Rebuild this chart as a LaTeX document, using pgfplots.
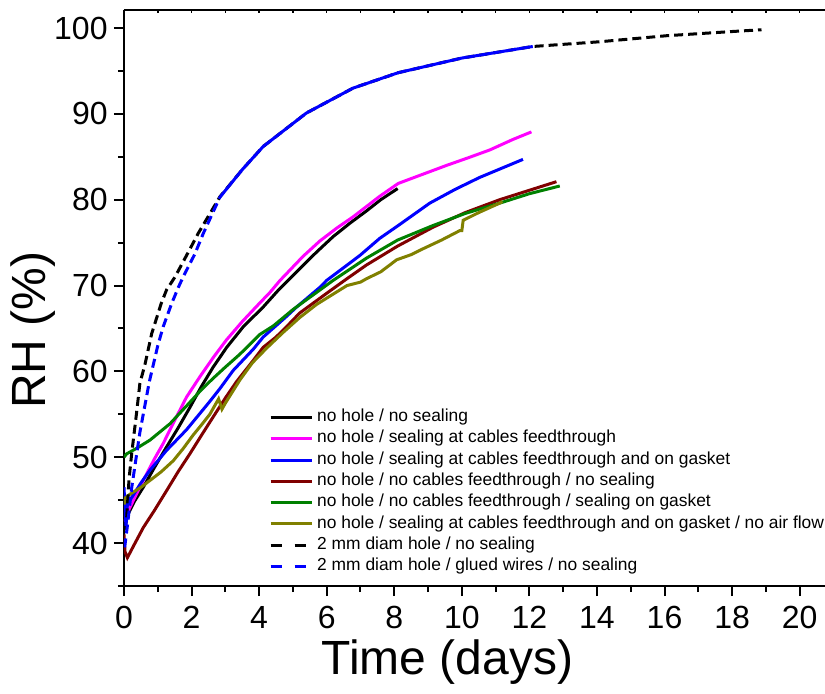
\documentclass[border=0pt]{standalone}
\usepackage{pgfplots}
\pgfplotsset{compat=1.18}
\usepackage{fontspec}
\setmainfont{Liberation Sans}
\definecolor{cMag}{RGB}{255,0,255}
\definecolor{cBlue}{RGB}{0,0,255}
\definecolor{cRed}{RGB}{128,0,0}
\definecolor{cGreen}{RGB}{0,128,0}
\definecolor{cOlive}{RGB}{128,128,0}
\begin{document}
\begin{tikzpicture}
\begin{axis}[
  name=ax,
  scale only axis,
  width=350.5pt, height=288pt,
  xmin=0, xmax=20.75,
  ymin=35, ymax=102.1,
  axis x line*=box, axis y line*=left,
  xtick={0,2,...,20}, minor xtick={1,3,...,19},
  ytick={40,50,...,100}, minor ytick={35,45,...,95},
  xtick pos=left, ytick pos=left,
  tick align=outside,
  major tick length=5pt, minor tick length=3pt,
  every tick/.style={black, line width=1pt},
  axis line style={line width=1pt},
  /pgf/number format/assume math mode=true,
  tick label style={font=\fontsize{16}{16}\selectfont, inner sep=3pt},
  xticklabel style={inner sep=1pt, yshift=-4pt},
  xlabel={Time (days)}, ylabel={RH (\%)},
  xlabel style={font=\fontsize{24}{24}\selectfont, inner sep=0pt, at={(axis description cs:0.4615,-0.132)}, anchor=center},
  ylabel style={font=\fontsize{24}{24}\selectfont, inner sep=0pt, at={(axis description cs:-0.13,0.444)}, anchor=center},
  legend cell align=left,
  legend style={at={(0.198,0.3188)}, anchor=north west, draw=none, fill=none,
    font=\fontsize{8.7}{10}\selectfont,
    nodes={inner sep=0pt, text height=7.4pt, text depth=3.25pt},
    /tikz/every odd column/.style={column sep=2pt}},
  legend image code/.code={\draw[#1] (0pt,0pt) -- (20.5pt,0pt);},
  every axis plot/.append style={line width=1.5pt},
]

% no hole / no sealing
\addplot[black] coordinates {
  (0.02,41.5) (0.1,43.2) (0.3,44.8) (0.57,46.5) (0.9,48.8) (1.26,51.2)
  (1.6,53.4) (1.95,55.8) (2.3,58.3) (2.64,60.5) (3.04,62.8) (3.53,65.2)
  (4.12,67.5) (4.6,69.6) (5.11,71.6) (5.7,73.9) (6.19,75.7) (6.7,77.3)
  (7.18,78.7) (7.6,80.0) (8.1,81.3)
};

% no hole / sealing at cables feedthrough
\addplot[cMag] coordinates {
  (0.02,42.5) (0.1,43.5) (0.18,44.2) (0.57,47.3) (0.9,49.8) (1.16,51.6)
  (1.5,54.3) (1.85,57.0) (2.25,59.4) (2.64,61.6) (3.04,63.7) (3.5,65.8)
  (3.93,67.6) (4.32,69.2) (4.62,70.6) (5.3,73.4) (5.8,75.2) (6.3,76.7)
  (6.78,78.0) (7.57,80.4) (8.12,81.9) (8.8,82.9) (9.55,84.0) (10.2,84.9)
  (10.83,85.8) (11.5,87.0) (12.06,87.9)
};

% no hole / sealing at cables feedthrough and on gasket
\addplot[cBlue] coordinates {
  (0.0,46.5) (0.03,44.0) (0.06,42.0) (0.1,44.5) (0.18,45.0) (0.5,47.0)
  (0.77,48.5) (1.26,50.8) (1.85,53.2) (2.54,56.5) (2.84,58.0) (3.23,60.1)
  (3.83,62.6) (4.12,64.0) (4.81,66.4) (5.11,67.5) (5.8,69.8) (6.0,70.6)
  (6.98,73.5) (7.57,75.5) (8.12,77.0) (9.05,79.6) (9.8,81.2) (10.53,82.6)
  (11.2,83.7) (11.81,84.7)
};

% no hole / no cables feedthrough / no sealing
\addplot[cRed] coordinates {
  (0.0,41.0) (0.03,39.0) (0.1,38.3) (0.3,39.8) (0.57,41.8) (0.9,43.8)
  (1.26,46.1) (1.6,48.3) (1.95,50.4) (2.3,52.6) (2.64,54.7) (3.0,56.9)
  (3.33,58.8) (3.83,61.3) (4.12,62.8) (4.5,64.0) (4.81,65.2) (5.2,66.8)
  (6.0,69.1) (6.6,70.8) (7.18,72.4) (8.1,74.6) (9.15,76.8) (10.1,78.5)
  (11.12,80.0) (12.0,81.1) (12.8,82.1)
};

% no hole / no cables feedthrough / sealing on gasket
\addplot[cGreen] coordinates {
  (0.0,50.0) (0.08,50.4) (0.4,51.1) (0.77,52.0) (1.36,53.9) (1.95,56.4)
  (2.3,57.9) (2.64,59.2) (3.0,60.5) (3.43,62.0) (4.02,64.3) (4.42,65.3)
  (5.0,67.2) (5.21,67.8) (6.19,70.6) (7.18,73.2) (8.1,75.3) (9.15,77.0)
  (10.1,78.4) (11.12,79.6) (12.0,80.7) (12.9,81.6)
};

% no hole / sealing at cables feedthrough and on gasket / no air flow
\addplot[cOlive] coordinates {
  (0.0,44.5) (0.05,45.3) (0.18,45.7) (0.5,46.5) (0.77,47.3) (1.1,48.3)
  (1.46,49.6) (1.75,51.0) (2.05,52.6) (2.3,53.8) (2.54,55.0) (2.8,56.8)
  (2.9,55.6) (3.0,56.3) (3.43,59.0) (3.8,61.0) (4.22,62.7) (4.7,64.5)
  (5.21,66.3) (5.7,67.8) (6.19,69.0) (6.6,70.0) (7.0,70.4) (7.18,70.8)
  (7.6,71.6) (8.07,73.0) (8.5,73.6) (8.86,74.3) (9.4,75.3) (9.94,76.4)
  (10.0,76.4) (10.04,77.6) (10.5,78.5) (11.12,79.6) (11.2,79.8)
};

% 2 mm diam hole / no sealing
\addplot[black, dash pattern=on 4.5pt off 2.5pt,
  legend image post style={dash pattern=on 5.5pt off 6.5pt}] coordinates {
  (0.08,43.0) (0.15,47.5) (0.23,50.5) (0.37,55.1) (0.47,58.6) (0.62,60.8)
  (0.82,64.4) (1.1,67.9) (1.26,69.5) (1.51,71.0) (1.85,73.5) (2.2,76.1)
  (2.84,80.35) (3.5,83.5) (4.12,86.2) (5.4,90.1) (6.78,93.0) (8.12,94.8)
  (10.0,96.5) (12.1,97.85) (14.08,98.4) (16.05,99.1) (18.03,99.6) (18.87,99.8)
};

% 2 mm diam hole / glued wires / no sealing
\addplot[cBlue, dash pattern=on 4.5pt off 2.5pt,
  legend image post style={dash pattern=on 5.5pt off 6.5pt}] coordinates {
  (0.02,39.5) (0.1,42.0) (0.23,46.5) (0.47,52.9) (0.75,58.8) (1.0,63.0)
  (1.16,65.2) (1.41,67.9) (1.61,69.8) (1.75,71.0) (2.1,73.7) (2.35,76.1)
  (2.84,80.3)
};
\addplot[cBlue, forget plot] coordinates {
  (2.84,80.3) (3.5,83.5) (4.12,86.2) (5.4,90.1) (6.78,93.0) (8.12,94.8)
  (10.0,96.5) (12.1,97.85)
};

\legend{no hole / no sealing,
  no hole / sealing at cables feedthrough,
  no hole / sealing at cables feedthrough and on gasket,
  no hole / no cables feedthrough / no sealing,
  no hole / no cables feedthrough / sealing on gasket,
  no hole / sealing at cables feedthrough and on gasket / no air flow,
  2 mm diam hole / no sealing,
  2 mm diam hole / glued wires / no sealing}
\end{axis}
% small inward ticks on the top border
\begin{axis}[
  at={(ax.south west)}, anchor=south west,
  scale only axis,
  width=350.5pt, height=288pt,
  xmin=0, xmax=20.75,
  ymin=35, ymax=102.1,
  axis x line*=top, axis y line=none,
  xtick={0,1,...,20}, xticklabels={},
  tick align=inside, major tick length=1.5pt,
  every tick/.style={black, line width=0.8pt},
  axis line style={line width=1pt},
]
\end{axis}
\pgfresetboundingbox
\path[use as bounding box] ([xshift=-62pt,yshift=-53.5pt]ax.south west) rectangle ([yshift=5pt]ax.north east);
\end{tikzpicture}
\end{document}
